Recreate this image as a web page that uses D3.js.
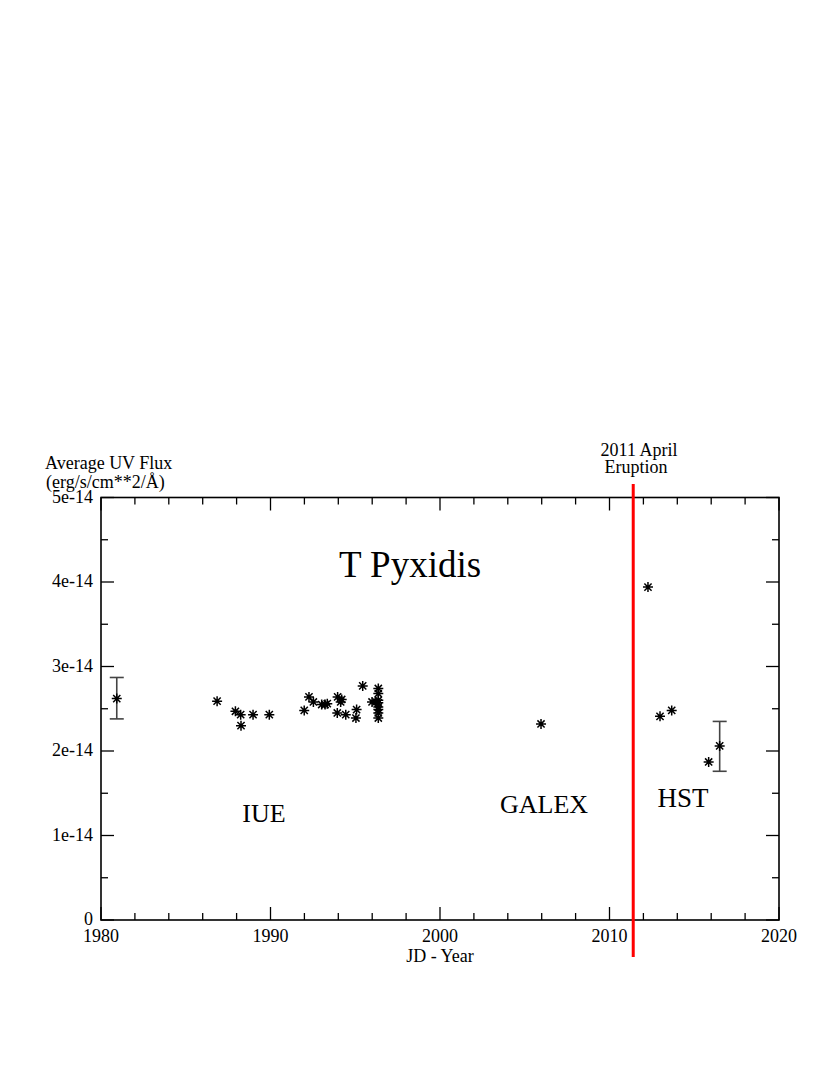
<!DOCTYPE html>
<html>
<head>
<meta charset="UTF-8">
<title>T Pyxidis UV flux</title>
<style>
  body { margin: 0; background: #fff; }
  svg text { font-family: "Liberation Serif", "Times New Roman", Times, "DejaVu Serif", serif; fill: #000; }
</style>
</head>
<body>
<script src="https://d3js.org/d3.v7.min.js"></script>
<script>
// data (flux in units of 1e-14 erg/s/cm^2/A)
const iueYears = [1980.93, 1986.85, 1987.93, 1988.24, 1988.26, 1988.97, 1989.93, 1991.99, 1992.27,
  1992.53, 1993.02, 1993.22, 1993.35, 1993.96, 1994.20, 1994.14, 1993.94, 1994.44, 1995.08,
  1995.04, 1995.44, 1995.99, 1996.22, 1996.36, 1996.36, 1996.36, 1996.36, 1996.36, 1996.36,
  1996.36, 1996.36];
const iueFlux = [2.62, 2.59, 2.47, 2.43, 2.30, 2.43, 2.43, 2.48, 2.64,
  2.58, 2.55, 2.55, 2.56, 2.64, 2.61, 2.58, 2.45, 2.43, 2.49,
  2.39, 2.77, 2.58, 2.58, 2.74, 2.68, 2.60, 2.57, 2.52, 2.49,
  2.45, 2.39];
const galexYears = [2005.96];
const galexFlux = [2.32];
const hstYears = [2012.27, 2012.98, 2013.67, 2015.85, 2016.50];
const hstFlux = [3.94, 2.41, 2.48, 1.87, 2.06];
// representative error bars
const errYears = [1980.93, 2016.50];
const errLow = [2.38, 1.76];
const errHigh = [2.87, 2.35];
const eruptionYear = 2011.4;
const xTicks = [1980, 1990, 2000, 2010, 2020];
const yTicks = [0, 1, 2, 3, 4, 5];
const yTickLabels = ["0", "1e-14", "2e-14", "3e-14", "4e-14", "5e-14"];

const W = 830, H = 1075;
const FONT = '"Liberation Serif", "Times New Roman", Times, serif';
const svg = d3.select("body").append("svg").attr("width", W).attr("height", H)
  .attr("font-family", FONT);

const x = d3.scaleLinear().domain([1980, 2020]).range([101, 779]);
const y = d3.scaleLinear().domain([0, 5]).range([920, 497.5]);

// ticks: inward, on all four sides
const g = svg.append("g");
const minorX = d3.range(1980, 2020.1, 2);
const minorY = d3.range(0, 5.01, 0.5);
minorX.forEach(v => {
  const len = (v % 10 === 0) ? 13 : 7;
  g.append("line").attr("x1", x(v)).attr("x2", x(v)).attr("y1", y(0)).attr("y2", y(0) - len)
    .attr("stroke", "#000").attr("stroke-width", 1.3);
  g.append("line").attr("x1", x(v)).attr("x2", x(v)).attr("y1", y(5)).attr("y2", y(5) + len)
    .attr("stroke", "#000").attr("stroke-width", 1.3);
});
minorY.forEach(v => {
  const len = (Math.abs(v - Math.round(v)) < 1e-6) ? 13 : 7;
  g.append("line").attr("x1", x(1980)).attr("x2", x(1980) + len).attr("y1", y(v)).attr("y2", y(v))
    .attr("stroke", "#000").attr("stroke-width", 1.3);
  g.append("line").attr("x1", x(2020)).attr("x2", x(2020) - len).attr("y1", y(v)).attr("y2", y(v))
    .attr("stroke", "#000").attr("stroke-width", 1.3);
});

// frame
g.append("rect").attr("x", x(1980)).attr("y", y(5))
  .attr("width", x(2020) - x(1980)).attr("height", y(0) - y(5))
  .attr("fill", "none").attr("stroke", "#000").attr("stroke-width", 1.6);

// tick labels
g.selectAll(".xl").data(xTicks).enter().append("text")
  .attr("x", d => x(d)).attr("y", y(0) + 22)
  .attr("text-anchor", "middle").attr("font-size", 18).text(d => d);
g.selectAll(".yl").data(yTicks).enter().append("text")
  .attr("x", x(1980) - 8).attr("y", d => y(d) + 5)
  .attr("text-anchor", "end").attr("font-size", 18).text((d, i) => yTickLabels[i]);

// axis titles
svg.append("text").attr("x", 440).attr("y", 962).attr("text-anchor", "middle")
  .attr("font-size", 18).text("JD - Year");
svg.append("text").attr("x", 45).attr("y", 469).attr("font-size", 18).text("Average UV Flux");
svg.append("text").attr("x", 46).attr("y", 488).attr("font-size", 18).text("(erg/s/cm**2/Å)");

// labels inside
svg.append("text").attr("x", 410).attr("y", 577).attr("text-anchor", "middle")
  .attr("font-size", 37).text("T Pyxidis");
svg.append("text").attr("x", 264).attr("y", 822).attr("text-anchor", "middle")
  .attr("font-size", 26).text("IUE");
svg.append("text").attr("x", 544).attr("y", 813).attr("text-anchor", "middle")
  .attr("font-size", 26).text("GALEX");
svg.append("text").attr("x", 683).attr("y", 807).attr("text-anchor", "middle")
  .attr("font-size", 27).text("HST");
svg.append("text").attr("x", 639).attr("y", 456).attr("text-anchor", "middle")
  .attr("font-size", 18).text("2011 April");
svg.append("text").attr("x", 636).attr("y", 473).attr("text-anchor", "middle")
  .attr("font-size", 18).text("Eruption");

// eruption line
svg.append("line").attr("x1", x(eruptionYear)).attr("x2", x(eruptionYear))
  .attr("y1", 484).attr("y2", 957).attr("stroke", "#ff0000").attr("stroke-width", 3);

// error bars
errYears.forEach((yr, i) => {
  const eg = svg.append("g").attr("stroke", "#444").attr("stroke-width", 1.6);
  eg.append("line").attr("x1", x(yr)).attr("x2", x(yr)).attr("y1", y(errLow[i])).attr("y2", y(errHigh[i]));
  eg.append("line").attr("x1", x(yr) - 7).attr("x2", x(yr) + 7).attr("y1", y(errLow[i])).attr("y2", y(errLow[i]));
  eg.append("line").attr("x1", x(yr) - 7).attr("x2", x(yr) + 7).attr("y1", y(errHigh[i])).attr("y2", y(errHigh[i]));
});

// star markers
const r = 5;
const starPath = `M${-r},0L${r},0M0,${-r}L0,${r}M${-r * 0.72},${-r * 0.72}L${r * 0.72},${r * 0.72}M${-r * 0.72},${r * 0.72}L${r * 0.72},${-r * 0.72}`;
function drawStars(years, flux) {
  svg.append("g").selectAll("path").data(years).enter().append("path")
    .attr("transform", (d, i) => "translate(" + x(d) + "," + y(flux[i]) + ")")
    .attr("d", starPath).attr("stroke", "#000").attr("stroke-width", 1.5).attr("fill", "none");
}
drawStars(iueYears, iueFlux);
drawStars(galexYears, galexFlux);
drawStars(hstYears, hstFlux);
</script>
</body>
</html>
